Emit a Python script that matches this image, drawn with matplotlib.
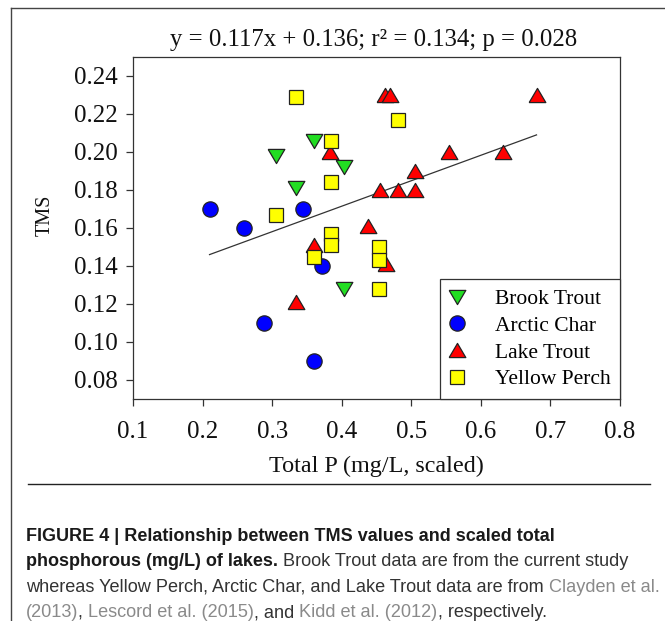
import matplotlib
matplotlib.use("Agg")
import matplotlib.pyplot as plt
from matplotlib import font_manager
from matplotlib.lines import Line2D

# ---------------- data ----------------
brook_x = [0.306, 0.360, 0.335, 0.404, 0.404]
brook_y = [0.198, 0.206, 0.181, 0.192, 0.128]

char_x = [0.21, 0.259, 0.345, 0.371, 0.288, 0.360]
char_y = [0.170, 0.160, 0.170, 0.140, 0.110, 0.090]

lake_x = [0.383, 0.360, 0.335, 0.438, 0.462, 0.469, 0.680, 0.554, 0.632,
          0.506, 0.455, 0.481, 0.506, 0.464]
lake_y = [0.200, 0.151, 0.121, 0.161, 0.230, 0.230, 0.230, 0.200, 0.200,
          0.190, 0.180, 0.180, 0.180, 0.141]

perch_x = [0.335, 0.384, 0.384, 0.305, 0.384, 0.384, 0.360, 0.454, 0.454,
           0.454, 0.481]
perch_y = [0.229, 0.206, 0.184, 0.167, 0.157, 0.151, 0.145, 0.150, 0.143,
           0.128, 0.217]

fit_x = [0.21, 0.68]
fit_y = [0.146, 0.209]

x_ticks = [0.1, 0.2, 0.3, 0.4, 0.5, 0.6, 0.7, 0.8]
y_ticks = [0.08, 0.10, 0.12, 0.14, 0.16, 0.18, 0.20, 0.22, 0.24]

title_text = "y = 0.117x + 0.136; r\u00b2 = 0.134; p = 0.028"
x_label = "Total P (mg/L, scaled)"
y_label = "TMS"
legend_labels = ["Brook Trout", "Arctic Char", "Lake Trout", "Yellow Perch"]

# ---------------- fonts ----------------
def have(name):
    try:
        font_manager.findfont(font_manager.FontProperties(family=name),
                              fallback_to_default=False)
        return True
    except Exception:
        return False

serif = "Liberation Serif" if have("Liberation Serif") else "DejaVu Serif"
cap_font = "Liberation Sans"
bold_size = 13.0
reg_size = 13.05

plt.rcParams["font.family"] = [serif, "DejaVu Serif"]

W, H = 665, 621
fig = plt.figure(figsize=(W / 100, H / 100), dpi=100)

def fx(px):
    return px / W

def fy(py):
    return 1 - py / H

ax = fig.add_axes([fx(133), fy(399), fx(620) - fx(133), fy(57) - fy(399)])

up_tri = [(-1, -0.85), (1, -0.85), (0, 0.85), (-1, -0.85)]
down_tri = [(-1, 0.85), (1, 0.85), (0, -0.85), (-1, 0.85)]
ec = "#222222"
mew = 0.9

ax.plot(fit_x, fit_y, color="#333333", lw=0.9, zorder=1)
ax.plot(brook_x, brook_y, ls="none", marker=down_tri, ms=12, mfc="#22dd22",
        mec=ec, mew=mew, zorder=3)
ax.plot(char_x, char_y, ls="none", marker="o", ms=11, mfc="#0000ff",
        mec=ec, mew=mew, zorder=3)
ax.plot(lake_x, lake_y, ls="none", marker=up_tri, ms=12, mfc="#ff0000",
        mec=ec, mew=mew, zorder=3)
ax.plot(perch_x, perch_y, ls="none", marker="s", ms=10.5, mfc="#ffff00",
        mec=ec, mew=mew, zorder=4)

ax.set_xlim(0.1, 0.8)
ax.set_ylim(0.07, 0.25)
ax.set_xticks(x_ticks)
ax.set_xticklabels([f"{v:.1f}" for v in x_ticks])
ax.set_yticks(y_ticks)
ax.set_yticklabels([f"{v:.2f}" for v in y_ticks])
ax.tick_params(direction="out", length=5, width=0.9, color="#333333",
               labelsize=18, labelcolor="#111111")
ax.tick_params(axis="x", pad=10.5)
ax.tick_params(axis="y", pad=5.8)
for s in ax.spines.values():
    s.set_color("#333333")
    s.set_linewidth(0.9)

handles = [
    Line2D([], [], ls="none", marker=down_tri, ms=12, mfc="#22dd22", mec=ec, mew=mew),
    Line2D([], [], ls="none", marker="o", ms=11, mfc="#0000ff", mec=ec, mew=mew),
    Line2D([], [], ls="none", marker=up_tri, ms=12, mfc="#ff0000", mec=ec, mew=mew),
    Line2D([], [], ls="none", marker="s", ms=10.5, mfc="#ffff00", mec=ec, mew=mew),
]
leg = ax.legend(handles, legend_labels, loc="lower right",
                bbox_to_anchor=(1.0, 0.0), borderaxespad=0, fontsize=15.5,
                frameon=True, fancybox=False, handlelength=0.75,
                handletextpad=1.35, labelspacing=0.31, borderpad=0.45,
                edgecolor="#333333")
leg.get_frame().set_linewidth(0.9)
leg.get_frame().set_alpha(1)

fig.text(fx(374), fy(40), title_text, ha="center", va="center", fontsize=17.8,
         color="#111111")
fig.text(fx(376), fy(466), x_label, ha="center", va="center", fontsize=17.4,
         color="#111111")
fig.text(fx(45), fy(215), y_label, ha="center", va="center", fontsize=14.5,
         rotation=90, color="#111111")

# frame lines of the figure page
fig.add_artist(Line2D([fx(11), fx(11)], [fy(8), fy(621)], color="#444444", lw=1.0))
fig.add_artist(Line2D([fx(11), fx(665)], [fy(8), fy(8)], color="#444444", lw=1.0))
fig.add_artist(Line2D([fx(28), fx(650)], [fy(484), fy(484)], color="#222222", lw=1.0))

# ---------------- caption ----------------
dark = "#1a1a1a"
body = "#333333"
gray = "#8a8a8a"
caption_lines = [
    [("FIGURE 4 | Relationship between TMS values and scaled total", "bold", dark)],
    [("phosphorous (mg/L) of lakes.", "bold", dark),
     (" Brook Trout data are from the current study", "normal", body)],
    [("whereas Yellow Perch, Arctic Char, and Lake Trout data are from ", "normal", body),
     ("Clayden et al.", "normal", gray)],
    [("(2013)", "normal", gray), (", ", "normal", body),
     ("Lescord et al. (2015)", "normal", gray), (", and ", "normal", body),
     ("Kidd et al. (2012)", "normal", gray), (", respectively.", "normal", body)],
]
line_base = [541, 566.5, 592, 617]
cap_x0 = 26
cap_texts = []
for pieces in caption_lines:
    row = []
    for txt, wt, col in pieces:
        size = bold_size if wt == "bold" else reg_size
        row.append(fig.text(0, 0, txt, ha="left", va="baseline",
                            fontsize=size, fontweight=wt, color=col,
                            family=[cap_font, "DejaVu Sans"]))
    cap_texts.append(row)

fig.canvas.draw()
renderer = fig.canvas.get_renderer()
for row, base in zip(cap_texts, line_base):
    x_px = cap_x0
    for t in row:
        t.set_position((fx(x_px), fy(base)))
        x_px += t.get_window_extent(renderer).width

fig.savefig("out.png", dpi=100)
